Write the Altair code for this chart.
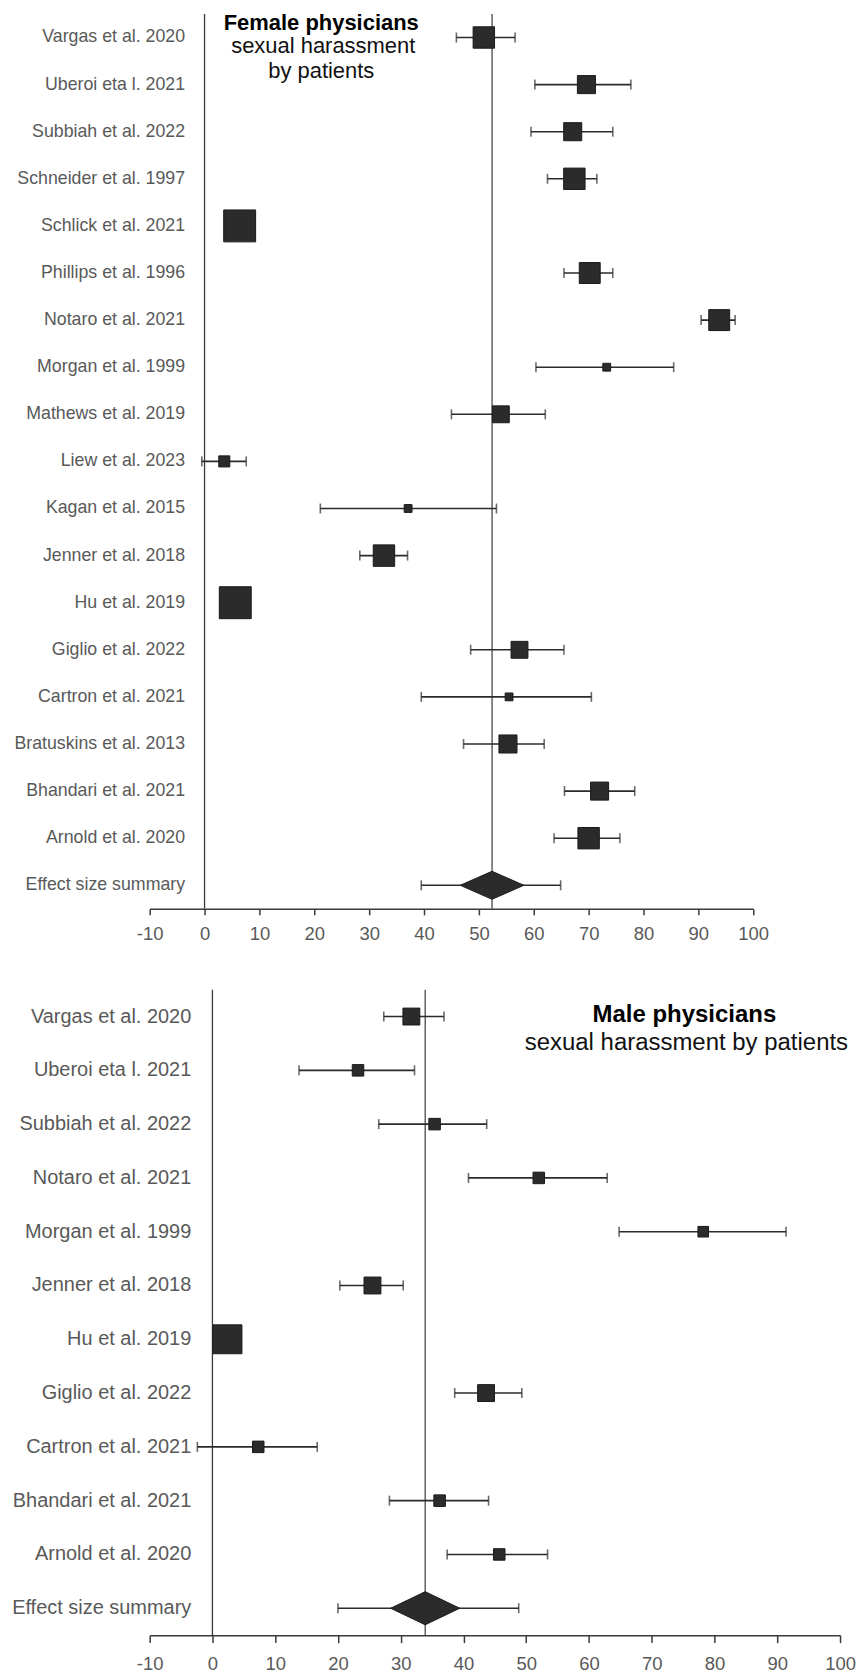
import altair as alt
import pandas as pd

FONT = "Liberation Sans"
SUMMARY = "Effect size summary"
X_TICKS = list(range(-10, 101, 10))

# ---------------- Female physicians ----------------
f_study = ["Vargas et al. 2020", "Uberoi eta l. 2021", "Subbiah et al.  2022",
           "Schneider et al. 1997", "Schlick et al. 2021", "Phillips et al. 1996",
           "Notaro et al. 2021", "Morgan et al. 1999", "Mathews et al. 2019",
           "Liew et al. 2023", "Kagan et al. 2015", "Jenner et al. 2018",
           "Hu et al. 2019", "Giglio et al. 2022", "Cartron et al. 2021",
           "Bratuskins et al. 2013", "Bhandari et al. 2021", "Arnold et al. 2020"]
f_est = [50.9, 69.6, 67.1, 67.4, 6.4, 70.2, 93.8, 73.3, 54.0,
         3.6, 37.1, 32.7, 5.6, 57.4, 55.5, 55.3, 72.0, 70.0]
f_lo = [45.9, 60.2, 59.5, 62.5, None, 65.5, 90.5, 60.4, 45.0,
        -0.5, 21.1, 28.3, None, 48.5, 39.5, 47.2, 65.6, 63.7]
f_hi = [56.6, 77.7, 74.4, 71.5, None, 74.4, 96.7, 85.5, 62.1,
        7.6, 53.2, 37.0, None, 65.5, 70.5, 61.9, 78.4, 75.7]
f_weight = [45, 32, 32, 45, 100, 43, 43, 6, 28, 12, 6, 45, 100, 28, 6, 32, 32, 45]
f_summary = [52.4, 39.5, 64.9]      # estimate, CI low, CI high
f_diamond = [46.7, 58.3]            # diamond extent
f_title = ["Female physicians", "sexual harassment", "by patients"]

# ---------------- Male physicians ----------------
m_study = ["Vargas et al. 2020", "Uberoi eta l. 2021", "Subbiah et al.  2022",
           "Notaro et al. 2021", "Morgan et al. 1999", "Jenner et al. 2018",
           "Hu et al. 2019", "Giglio et al. 2022", "Cartron et al. 2021",
           "Bhandari et al. 2021", "Arnold et al. 2020"]
m_est = [31.7, 23.2, 35.4, 52.0, 78.2, 25.5, 2.4, 43.6, 7.3, 36.2, 45.7]
m_lo = [27.3, 13.8, 26.5, 40.8, 64.8, 20.3, None, 38.6, -2.4, 28.2, 37.4]
m_hi = [36.9, 32.2, 43.7, 62.9, 91.4, 30.4, None, 49.3, 16.7, 44.0, 53.4]
m_weight = [28, 13, 13, 13, 11, 28, 82, 28, 13, 13, 13]
m_summary = [33.9, 20.0, 48.8]
m_diamond = [28.5, 39.5]
m_title = ["Male physicians", "sexual harassment by patients"]

LINE = "#3a3a3a"
BOX = "#2b2b2b"
LABEL = "#595959"


def panel(study, est, lo, hi, weight, summary, diamond, width, height,
          label_size, label_pad, zero_offset, tick_size, tick_pad,
          title_lines, title_x, title_y, title_size, dia_ratio):
    order = study + [SUMMARY]
    pts = pd.DataFrame({"study": study, "est": est, "lo": lo, "hi": hi, "w": weight})
    summ = pd.DataFrame({"study": [SUMMARY], "est": [summary[0]],
                         "lo": [summary[1]], "hi": [summary[2]], "w": [0]})
    ci = pd.concat([pts, summ], ignore_index=True).dropna(subset=["lo", "hi"])

    xs = alt.Scale(domain=[-10, 100], nice=False, zero=False)
    xa = alt.Axis(values=X_TICKS, grid=False, title=None, domainColor=LINE,
                  domainWidth=1.5, tickColor=LINE, tickWidth=1.5, tickSize=tick_size,
                  labelPadding=tick_pad, labelColor=LABEL, labelFontSize=18.5,
                  labelFont=FONT, labelFlush=False, labelOverlap=False,
                  labelExpr="'' + datum.value")
    ys = alt.Scale(domain=order)
    ya = alt.Axis(title=None, domain=False, ticks=False, grid=False,
                  offset=zero_offset, labelPadding=label_pad,
                  labelFontSize=label_size, labelColor=LABEL, labelFont=FONT,
                  labelLimit=400)

    def X(f):
        return alt.X(f, type="quantitative", scale=xs, axis=xa, title=None)

    def Y():
        return alt.Y("study:N", scale=ys, axis=ya, title=None)

    zero = alt.Chart(pd.DataFrame({"v": [0]})).mark_rule(
        color=LINE, strokeWidth=1.3).encode(x=X("v"))
    ref = alt.Chart(pd.DataFrame({"v": [summary[0]]})).mark_rule(
        color=LINE, strokeWidth=1.2).encode(x=X("v"))
    bars = alt.Chart(ci).mark_rule(color=BOX, strokeWidth=1.6).encode(
        x=X("lo"), x2="hi:Q", y=Y())
    cap_lo = alt.Chart(ci).mark_tick(color=BOX, thickness=1.6, size=10).encode(
        x=X("lo"), y=Y())
    cap_hi = alt.Chart(ci).mark_tick(color=BOX, thickness=1.6, size=10).encode(
        x=X("hi"), y=Y())
    squares = alt.Chart(pts).mark_square(
        filled=True, opacity=1, color=BOX, stroke="#1a1a1a", strokeWidth=1).encode(
        x=X("est"), y=Y(),
        size=alt.Size("w:Q", scale=alt.Scale(domain=[0, 100], range=[0, 1024]),
                      legend=None))
    dia_w = (diamond[1] - diamond[0]) * width / 110.0
    dia_path = f"M-1,0L0,-{dia_ratio}L1,0L0,{dia_ratio}Z"
    dia = alt.Chart(summ).mark_point(
        shape=dia_path, filled=True, opacity=1, color=BOX, stroke="#1a1a1a",
        strokeWidth=1, size=dia_w ** 2).encode(x=X("est"), y=Y())

    texts = []
    for i, line in enumerate(title_lines):
        texts.append(
            alt.Chart(pd.DataFrame({"t": [line]})).mark_text(
                font=FONT, fontSize=title_size[i],
                fontWeight="bold" if i == 0 else "normal",
                color="#000000" if i == 0 else "#111111",
                align="center", baseline="alphabetic").encode(
                text="t:N", x=alt.value(title_x[i]), y=alt.value(title_y[i])))

    return alt.layer(zero, ref, bars, cap_lo, cap_hi, squares, dia, *texts).properties(
        width=width, height=height)


top = panel(f_study, f_est, f_lo, f_hi, f_weight, f_summary, f_diamond,
            width=605, height=897, label_size=17.8, label_pad=20, zero_offset=-55,
            tick_size=6, tick_pad=10, title_lines=f_title,
            title_x=[172, 174, 172], title_y=[16, 39.5, 64],
            title_size=[22, 22, 22], dia_ratio=0.44)

bottom = panel(m_study, m_est, m_lo, m_hi, m_weight, m_summary, m_diamond,
               width=692, height=647, label_size=20, label_pad=21.7,
               zero_offset=-62.9, tick_size=7.5, tick_pad=12,
               title_lines=m_title, title_x=[536, 538], title_y=[32, 60],
               title_size=[24, 24], dia_ratio=0.48)

chart = alt.vconcat(top, bottom, spacing=45).properties(
    padding={"left": 3, "top": 2, "right": 0, "bottom": 2}
).configure_view(stroke=None)

chart.save("out.html", embed_options={"renderer": "svg", "actions": False})
